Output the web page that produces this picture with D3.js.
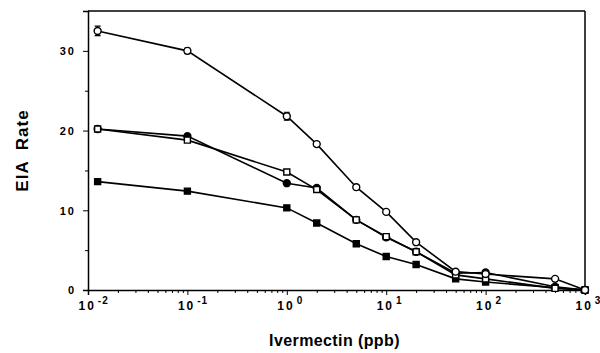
<!DOCTYPE html>
<html>
<head>
<meta charset="utf-8">
<script src="https://d3js.org/d3.v7.min.js"></script>
<style>
  body { margin: 0; background: #fff; }
  text { font-family: "Liberation Sans", Arial, sans-serif; font-weight: bold; fill: #000; }
</style>
</head>
<body>
<div id="chart"></div>
<script>
// doses (ppb) and EIA rates
var dose = [0.0125, 0.1, 1, 2, 5, 10, 20, 50, 100, 500, 1000];
var openCircle   = [32.5, 30.0, 21.8, 18.3, 12.9, 9.8, 6.0, 2.3, 2.0, 1.4, 0];
var openCircleEr = [0.6, 0.35, 0.5, 0.3, 0.3, 0.2, 0.2, 0, 0, 0, 0];
var openSquare   = [20.2, 18.8, 14.8, 12.6, 8.8, 6.7, 4.8, 1.9, 1.4, 0.2, 0];
var filledCircle = [20.2, 19.3, 13.4, 12.8, 8.8, 6.6, 4.8, 2.1, 2.2, 0.4, 0];
var filledSquare = [13.6, 12.4, 10.3, 8.4, 5.8, 4.2, 3.2, 1.4, 1.0, 0.3, 0];
var xMajor = [0.01, 0.1, 1, 10, 100, 1000];
var xExp = ["-2", "-1", "0", "1", "2", "3"];
var yMajor = [0, 10, 20, 30];
var yMinor = [5, 15, 25];

var W = 600, H = 353;
var margin = {top: 11, right: 15, bottom: 63, left: 88};
var width = W - margin.left - margin.right,
    height = H - margin.top - margin.bottom;

var svg = d3.select("#chart").append("svg")
  .attr("width", W).attr("height", H)
  .append("g")
  .attr("transform", "translate(" + margin.left + "," + margin.top + ")");

var x = d3.scaleLog().domain([0.01, 1000]).range([0, width]);
var y = d3.scaleLinear().domain([0, 35]).range([height, 0]);

// minor log ticks
var xMinor = [];
xMajor.slice(0, -1).forEach(function(d) {
  for (var k = 2; k < 10; k++) xMinor.push(d * k);
});

svg.append("g")
  .attr("transform", "translate(0," + height + ")")
  .call(d3.axisBottom(x).tickValues(xMinor).tickSize(3).tickFormat(""))
  .call(function(g) { g.select(".domain").remove(); });

var xa = svg.append("g")
  .attr("transform", "translate(0," + height + ")")
  .call(d3.axisBottom(x).tickValues(xMajor).tickSize(5).tickFormat(""));
xa.select(".domain").attr("stroke-width", 1.5);
xa.selectAll(".tick").each(function(d, i) {
  var t = d3.select(this).append("text")
    .attr("x", -10).attr("y", 20).attr("text-anchor", "start")
    .style("font-size", "12px");
  t.append("tspan").style("letter-spacing", "2px").text("10");
  t.append("tspan").attr("dx", 2).attr("dy", -6)
    .style("font-size", "10px").style("letter-spacing", "1px").text(xExp[i]);
});

svg.append("g")
  .call(d3.axisLeft(y).tickValues(yMinor).tickSize(3).tickFormat(""))
  .call(function(g) { g.select(".domain").remove(); });

var ya = svg.append("g")
  .call(d3.axisLeft(y).tickValues(yMajor).tickSize(5).tickFormat(d3.format("d")));
ya.select(".domain").attr("stroke-width", 1.5);
ya.selectAll("text")
  .attr("x", -12).attr("dy", "0.35em")
  .style("font-size", "11px").style("letter-spacing", "2px");

// frame top and right
svg.append("line").attr("x1", 0).attr("x2", width).attr("y1", 0).attr("y2", 0)
  .attr("stroke", "#000").attr("stroke-width", 1.5);
svg.append("line").attr("x1", width).attr("x2", width).attr("y1", 0).attr("y2", height)
  .attr("stroke", "#000").attr("stroke-width", 1.5);

var line = d3.line()
  .x(function(d) { return x(d[0]); })
  .y(function(d) { return y(d[1]); });

function pts(vals) { return dose.map(function(d, i) { return [d, vals[i]]; }); }

var series = [
  {vals: filledSquare, shape: "square", fill: "#000"},
  {vals: filledCircle, shape: "circle", fill: "#000"},
  {vals: openSquare, shape: "square", fill: "#fff"},
  {vals: openCircle, shape: "circle", fill: "#fff", err: openCircleEr}
];

series.forEach(function(s) {
  var data = pts(s.vals);
  svg.append("path").datum(data)
    .attr("d", line)
    .attr("fill", "none").attr("stroke", "#000").attr("stroke-width", 1.6);

  if (s.err) {
    svg.selectAll(null).data(data.filter(function(d, i) { return s.err[i] > 0; }))
      .enter().append("path")
      .attr("d", function(d) {
        var i = dose.indexOf(d[0]);
        var cx = x(d[0]), y1 = y(d[1] + s.err[i]), y2 = y(d[1] - s.err[i]);
        return "M" + (cx - 3) + "," + y1 + "H" + (cx + 3) + "M" + cx + "," + y1 +
               "V" + y2 + "M" + (cx - 3) + "," + y2 + "H" + (cx + 3);
      })
      .attr("stroke", "#000").attr("stroke-width", 1.2).attr("fill", "none");
  }

  var sym = d3.symbol().type(s.shape === "square" ? d3.symbolSquare : d3.symbolCircle)
    .size(s.shape === "square" ? 36 : 38);
  svg.selectAll(null).data(data).enter().append("path")
    .attr("d", sym)
    .attr("transform", function(d) { return "translate(" + x(d[0]) + "," + y(d[1]) + ")"; })
    .attr("fill", s.fill).attr("stroke", "#000").attr("stroke-width", 1.4);
});

// axis titles
svg.append("text")
  .attr("x", width / 2 - 2).attr("y", height + 56)
  .attr("text-anchor", "middle").style("font-size", "16px")
  .style("letter-spacing", "0.4px")
  .text("Ivermectin (ppb)");

svg.append("text")
  .attr("transform", "rotate(-90)")
  .attr("x", -(y(17.5))).attr("y", -60)
  .attr("text-anchor", "middle").style("font-size", "17px")
  .style("letter-spacing", "1px").style("word-spacing", "5px")
  .text("EIA Rate");
</script>
</body>
</html>
